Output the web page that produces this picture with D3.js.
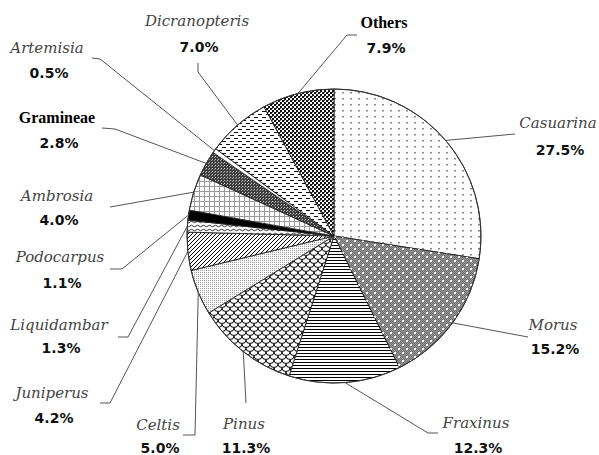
<!DOCTYPE html>
<html>
<head>
<meta charset="utf-8">
<script src="https://cdn.jsdelivr.net/npm/d3@7"></script>
<style>
  body { margin: 0; background: #fff; }
  .name { font-family: "DejaVu Serif", serif; font-style: italic; font-size: 15px; fill: #444; }
  .name.upright { font-family: "Liberation Serif", serif; font-style: normal; font-weight: bold; font-size: 16px; fill: #000; }
  .pct { font-family: "DejaVu Sans", sans-serif; font-weight: bold; font-size: 14px; fill: #111; }
  .leader { fill: none; stroke: #555; stroke-width: 1; }
</style>
</head>
<body>
<svg id="chart" width="599" height="455"></svg>
<script>
// --- data (clockwise from 12 o'clock) ---
const taxa = ["Casuarina", "Morus", "Fraxinus", "Pinus", "Celtis", "Juniperus",
  "Liquidambar", "Podocarpus", "Ambrosia", "Gramineae", "Artemisia", "Dicranopteris", "Others"];
const shares = [27.5, 15.2, 12.3, 11.3, 5.0, 4.2, 1.3, 1.1, 4.0, 2.8, 0.5, 7.0, 7.9];
const uprightNames = ["Gramineae", "Others"];

// --- layout: label centre, baselines, leader bend/end points ---
const labelLayout = {
  Casuarina:     { x: 558, ny: 128, py: 155, pts: [[515, 134]] },
  Morus:         { x: 553, ny: 330, py: 354, pts: [[528, 337]] },
  Fraxinus:      { x: 476, ny: 428, py: 453, pts: [[428, 433], [438, 433]] },
  Pinus:         { x: 244, ny: 429, py: 453, pts: [[246, 403]] },
  Celtis:        { x: 158, ny: 430, py: 453, pts: [[195, 435], [183, 435]] },
  Juniperus:     { x: 52,  ny: 398, py: 423, pts: [[110, 403], [100, 403]] },
  Liquidambar:   { x: 59,  ny: 330, py: 353, pts: [[128, 337], [118, 337]] },
  Podocarpus:    { x: 60,  ny: 262, py: 288, pts: [[122, 269], [110, 269]] },
  Ambrosia:      { x: 57,  ny: 201, py: 225, pts: [[110, 207]] },
  Gramineae:     { x: 57,  ny: 123, py: 148, pts: [[115, 129], [102, 128]] },
  Artemisia:     { x: 47,  ny: 53,  py: 78,  pts: [[100, 59], [92, 58]] },
  Dicranopteris: { x: 197, ny: 26,  py: 52,  pts: [[198, 72], [198, 63]] },
  Others:        { x: 384, ny: 28,  py: 53,  pts: [[347, 35], [357, 35]] }
};

const cx = 334, cy = 236, radius = 147;

const svg = d3.select("#chart");
const defs = svg.append("defs");

// pattern helper
function pattern(id, w, h, bg, draw) {
  const p = defs.append("pattern").attr("id", id)
    .attr("patternUnits", "userSpaceOnUse").attr("width", w).attr("height", h);
  if (bg) p.append("rect").attr("width", w).attr("height", h).attr("fill", bg);
  draw(p);
}
function dot(p, x, y, w, h, c) {
  p.append("rect").attr("x", x).attr("y", y).attr("width", w).attr("height", h).attr("fill", c);
}

pattern("p-casuarina", 8, 6, "#fff", p => dot(p, 0, 0, 2, 1.5, "#8a8a8a"));
pattern("p-morus", 2, 2, "#6e6e6e", p => { dot(p, 0, 0, 1, 1, "#9a9a9a"); dot(p, 1, 1, 1, 1, "#9a9a9a"); });
pattern("p-morus-dots", 8, 8, null, p => { dot(p, 0, 0, 2, 2, "#fff"); dot(p, 4, 4, 2, 2, "#fff"); });
pattern("p-fraxinus", 3, 3, "#fff", p => dot(p, 0, 0, 3, 1, "#000"));
pattern("p-pinus", 8, 8, "#fff", p => {
  p.append("path").attr("fill", "none").attr("stroke", "#000").attr("stroke-width", 1)
    .attr("d", "M0,0 A4,3.5 0 0 0 8,0 M-4,4 A4,3.5 0 0 0 4,4 M4,4 A4,3.5 0 0 0 12,4 M0,8 A4,3.5 0 0 0 8,8");
});
pattern("p-celtis", 2, 2, "#fff", p => dot(p, 0, 0, 1, 1, "#9c9c9c"));
pattern("p-juniperus", 4, 4, "#fff", p => {
  p.append("path").attr("stroke", "#000").attr("stroke-width", 1)
    .attr("d", "M-1,5 L5,-1 M-1,1 L1,-1 M3,5 L5,3");
});
pattern("p-liquidambar", 6, 4, "#fff", p => {
  p.append("path").attr("fill", "none").attr("stroke", "#000").attr("stroke-width", 0.8)
    .attr("d", "M0,2 Q1.5,0.5 3,2 T6,2");
});
pattern("p-podocarpus", 4, 4, "#000", p => {});
pattern("p-ambrosia", 5, 5, "#fff", p => {
  dot(p, 0, 0, 5, 1, "#9a9a9a");
  dot(p, 0, 0, 1, 5, "#9a9a9a");
});
pattern("p-gramineae", 3, 3, "#3c3c3c", p => { dot(p, 1, 1, 1, 1, "#d0d0d0"); dot(p, 0, 2, 1, 1, "#a0a0a0"); });
pattern("p-artemisia", 4, 4, "#fff", p => {});
pattern("p-dicranopteris", 8, 6, "#fff", p => { dot(p, 0, 1, 4, 1, "#111"); dot(p, 4, 4, 4, 1, "#111"); });
pattern("p-others", 4, 4, "#fff", p => {
  dot(p, 0, 0, 2, 2, "#111"); dot(p, 2, 2, 2, 2, "#111"); dot(p, 2, 0, 1, 1, "#666");
});

const slices = taxa.map((t, i) => ({ taxon: t, share: shares[i] }));
const pie = d3.pie().sort(null).value(d => d.share).startAngle(0).endAngle(2 * Math.PI);
const arc = d3.arc().innerRadius(0).outerRadius(radius);
const arcs = pie(slices);

const g = svg.append("g").attr("transform", `translate(${cx},${cy})`);

g.selectAll("path.slice")
  .data(arcs)
  .join("path")
  .attr("class", "slice")
  .attr("d", arc)
  .attr("fill", d => `url(#p-${d.data.taxon.toLowerCase()})`)
  .attr("stroke", "#222")
  .attr("stroke-width", 0.9);

// white dots over Morus
g.append("path").datum(arcs[1]).attr("d", arc).attr("fill", "url(#p-morus-dots)").attr("stroke", "none");

g.append("circle").attr("r", radius).attr("fill", "none").attr("stroke", "#333").attr("stroke-width", 1);

// leaders
const line = d3.line();
svg.selectAll("path.leader")
  .data(arcs)
  .join("path")
  .attr("class", "leader")
  .attr("d", d => {
    const a = (d.startAngle + d.endAngle) / 2;
    const start = [cx + radius * Math.sin(a), cy - radius * Math.cos(a)];
    return line([start, ...labelLayout[d.data.taxon].pts]);
  });

// labels
const labels = svg.selectAll("g.label")
  .data(arcs)
  .join("g")
  .attr("class", "label");

labels.append("text")
  .attr("class", d => uprightNames.includes(d.data.taxon) ? "name upright" : "name")
  .attr("x", d => labelLayout[d.data.taxon].x)
  .attr("y", d => labelLayout[d.data.taxon].ny)
  .attr("text-anchor", "middle")
  .text(d => d.data.taxon);

labels.append("text")
  .attr("class", "pct")
  .attr("x", d => labelLayout[d.data.taxon].x + 2)
  .attr("y", d => labelLayout[d.data.taxon].py)
  .attr("text-anchor", "middle")
  .text(d => d3.format(".1f")(d.data.share) + "%");
</script>
</body>
</html>
